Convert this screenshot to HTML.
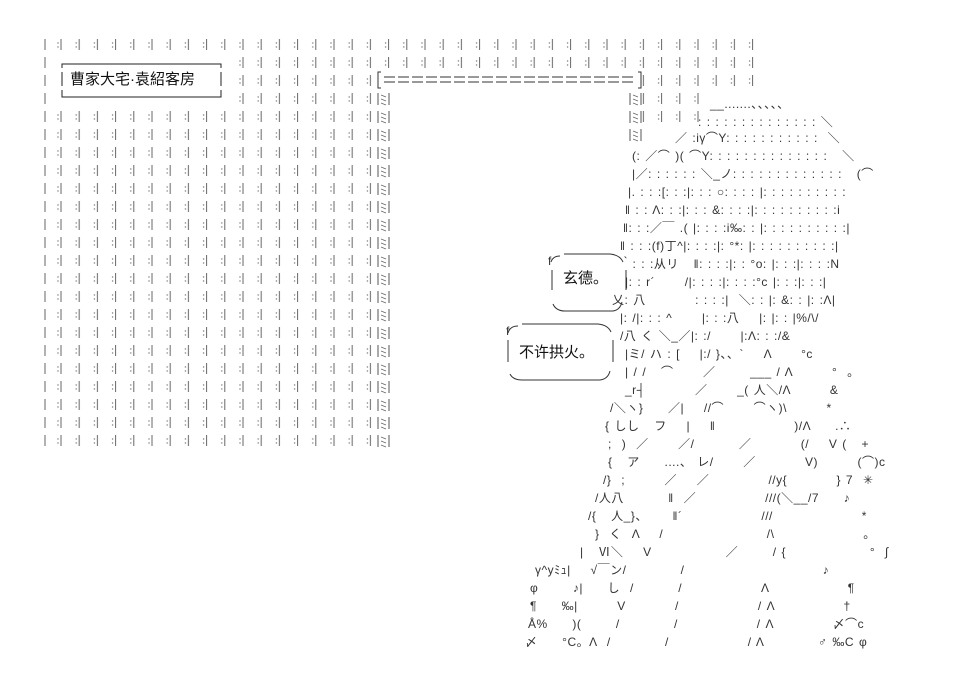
<!DOCTYPE html>
<html><head><meta charset="utf-8"><style>
html,body{margin:0;padding:0;background:#fff;}
#c{position:relative;width:974px;height:676px;overflow:hidden;background:#fff;font-family:"Liberation Sans","Noto Sans CJK SC",sans-serif;}
.l{position:absolute;white-space:pre;font-size:12px;line-height:14px;color:#333;letter-spacing:0.5px;word-spacing:1.1px;font-family:"Liberation Sans","Noto Sans CJK JP",sans-serif;}
.t{position:absolute;white-space:pre;font-size:15px;line-height:18px;color:#111;font-family:"Liberation Sans","Noto Sans CJK SC",sans-serif;}
</style></head><body><div id="c">
<svg width="974" height="676" style="position:absolute;left:0;top:0">
<defs>
<pattern id="p" patternUnits="userSpaceOnUse" x="57" y="38" width="18.2" height="18">
<circle cx="1" cy="5" r="0.7" fill="#777"/><circle cx="1" cy="9" r="0.7" fill="#777"/>
<line x1="4" y1="1" x2="4" y2="12" stroke="#666" stroke-width="1"/>
</pattern>
<pattern id="q" patternUnits="userSpaceOnUse" x="44" y="38" width="18" height="18">
<line x1="1" y1="1" x2="1" y2="12" stroke="#666" stroke-width="1"/>
</pattern>
<pattern id="x" patternUnits="userSpaceOnUse" x="377" y="38" width="14" height="18">
<line x1="1" y1="1" x2="1" y2="13" stroke="#555"/><line x1="12" y1="1" x2="12" y2="13" stroke="#555"/>
<path d="M4 3l5 2M4 7l5 2M4 11l5 2" stroke="#666" stroke-width=".8"/>
</pattern>
</defs>
<rect x="44" y="38" width="4" height="410" fill="url(#q)"/>
<rect x="57" y="38" width="708" height="36" fill="url(#p)"/>
<rect x="57" y="74" width="320" height="374" fill="url(#p)"/>
<rect x="640" y="74" width="125" height="18" fill="url(#p)"/>
<rect x="640" y="92" width="70" height="36" fill="url(#p)"/>
<rect x="55" y="55" width="175" height="52" fill="#fff"/>
<rect x="376" y="74" width="266" height="374" fill="#fff"/>
<rect x="377" y="90" width="14" height="358" fill="url(#x)"/>
<rect x="628" y="90" width="14" height="54" fill="url(#x)"/>
<path d="M62 68V64H221V68M62 90V97H221V90M62 72V86M221 72V86" stroke="#222" fill="none"/>
<path d="M381 72H378V88H381M638 72H641V88H638" stroke="#333" fill="none"/>
<g stroke="#333" stroke-width="1">
<line x1="384" y1="77" x2="636" y2="77" stroke-dasharray="11 3"/>
<line x1="384" y1="82" x2="636" y2="82" stroke-dasharray="11 3"/>
</g>
<path d="M560 256Q553 256 551 262M564 254H610Q620 255 623 262M626 270V290M552 270V290M553 304Q556 311 565 311H613Q620 310 622 302" stroke="#333" fill="none"/>
<path d="M518 326Q510 326 508 333M522 324H598Q608 325 611 332M613 340V362M508 340V362M510 374Q513 380 522 380H600Q608 379 610 371" stroke="#333" fill="none"/>
</svg>
<div class="t" style="left:70px;top:71px">曹家大宅·袁紹客房</div>
<div class="t" style="left:563px;top:270px">玄德。</div>
<div class="t" style="left:519px;top:344px">不许拱火。</div>
<div class="l" style="left:548px;top:254px">f</div>
<div class="l" style="left:506px;top:324px">f</div>
<div class="l" style="left:710px;top:97px">__.......、、、、、</div>
<div class="l" style="left:698px;top:115px">: : : : : : : : : : : : : : ＼</div>
<div class="l" style="left:675px;top:131px">／ :iγ⌒Y: : : : : : : : : : :  ＼</div>
<div class="l" style="left:632px;top:149px">(: ／⌒ )( ⌒Y: : : : : : : : : : : : : :   ＼</div>
<div class="l" style="left:632px;top:167px">|／: : : : : : ＼_ノ: : : : : : : : : : : : :   (⌒</div>
<div class="l" style="left:628px;top:185px">|. : : :[: : :|: : : ○: : : : |: : : : : : : : : :</div>
<div class="l" style="left:625px;top:203px">‖ : : Λ: : :|: : : &amp;: : : :|: : : : : : : : : :i</div>
<div class="l" style="left:623px;top:221px">‖: : :／￣ .( |: : : :i‰: : |: : : : : : : : : :|</div>
<div class="l" style="left:620px;top:239px">‖ : : :(f)丁^|: : : :|: °*: |: : : : : : : : : :|</div>
<div class="l" style="left:620px;top:257px">｀: : :从リ   ‖: : : :|: : °o: |: : :|: : : :N</div>
<div class="l" style="left:625px;top:275px">|: : r´      /|: : : :|: : : :°c |: : :|: : :|</div>
<div class="l" style="left:612px;top:293px">乂: 八          : : : :|  ＼: : |: &amp;: : |: :Λ|</div>
<div class="l" style="left:620px;top:311px">|: /|: : : ^      |: : :八    |: |: : |%/\/</div>
<div class="l" style="left:620px;top:329px">/八 く ＼_／|: :/      |:Λ: : :/&amp;</div>
<div class="l" style="left:625px;top:347px">|ミ/ ハ : [    |:/ }、、`    Λ      °c</div>
<div class="l" style="left:625px;top:365px">| / /   ⌒      ／       ___ / Λ        °  。</div>
<div class="l" style="left:625px;top:383px">_r┤          ／      _( 人＼/Λ        &amp;</div>
<div class="l" style="left:610px;top:401px">/＼ヽ}     ／|    //⌒      ⌒ヽ)\        *</div>
<div class="l" style="left:605px;top:419px">{ しし   フ    |    ‖                )/Λ     .∴</div>
<div class="l" style="left:608px;top:437px">;  )  ／      ／/         ／          (/    V (   +</div>
<div class="l" style="left:608px;top:455px">{   ア     ....、 レ/      ／          V)        (⌒)c</div>
<div class="l" style="left:603px;top:473px">/}  ;        ／    ／            //y{          } 7  ✳</div>
<div class="l" style="left:595px;top:491px">/人八         ‖  ／              ///(＼__/7     ♪</div>
<div class="l" style="left:588px;top:509px">/{   人_}、     ‖´                ///                  *</div>
<div class="l" style="left:595px;top:527px">}  く  Λ    /                     /\                  。</div>
<div class="l" style="left:580px;top:545px">|   Ⅵ＼    V               ／       / {                 °  ∫</div>
<div class="l" style="left:535px;top:563px">γ^yﾐｭ|    √￣ン/           /                            ♪</div>
<div class="l" style="left:530px;top:581px">φ       ♪|     し  /         /                Λ                ¶</div>
<div class="l" style="left:530px;top:599px">¶     ‰|        V          /                / Λ              †</div>
<div class="l" style="left:528px;top:617px">Å%     )(       /           /                / Λ            〆⌒c</div>
<div class="l" style="left:525px;top:635px">〆     °C。Λ  /           /                / Λ           ♂ ‰C φ</div>
</div></body></html>
